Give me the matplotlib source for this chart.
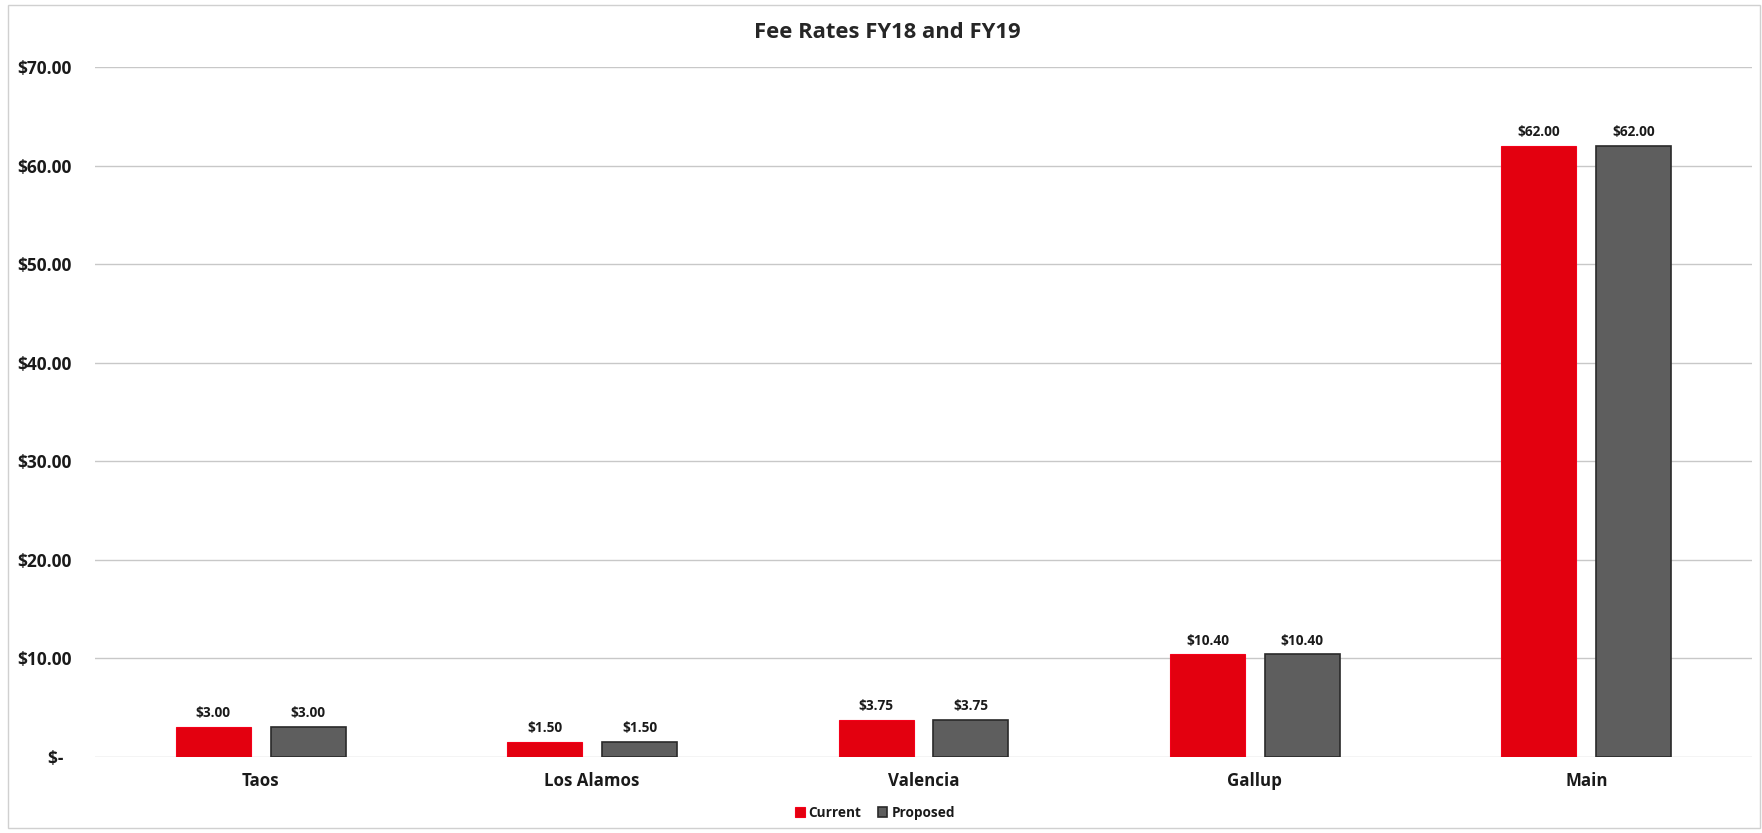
import matplotlib
matplotlib.use("Agg")
import matplotlib.pyplot as plt
import numpy as np
from matplotlib.patches import Rectangle

plt.rcParams['font.family'] = ['Open Sans', 'DejaVu Sans']

categories = ["Taos", "Los Alamos", "Valencia", "Gallup", "Main"]
current = [3.00, 1.50, 3.75, 10.40, 62.00]
proposed = [3.00, 1.50, 3.75, 10.40, 62.00]
yticks = [0, 10, 20, 30, 40, 50, 60, 70]
ytick_labels = ["$-  ", "$10.00", "$20.00", "$30.00", "$40.00", "$50.00", "$60.00", "$70.00"]

fig = plt.figure(figsize=(17.62, 8.33), dpi=100)
ax = fig.add_axes([95/1762, 1-757/833, (1752-95)/1762, (757-67)/833])

x = np.arange(len(categories))
w = 0.226
off = 0.143
red = "#E3000F"
gray = "#5E5E5E"
b1 = ax.bar(x - off, current, w, color=red, edgecolor="#F5001A", linewidth=0.8, label="Current", zorder=3)
b2 = ax.bar(x + off, proposed, w, color=gray, edgecolor="#2A2A2A", linewidth=1.2, label="Proposed", zorder=3)

for bars in (b1, b2):
    for r in bars:
        h = r.get_height()
        ax.annotate(f"${h:.2f}", (r.get_x() + r.get_width()/2, h), xytext=(0, 5),
                    textcoords="offset points", ha="center", va="bottom",
                    fontsize=9.8, fontweight="bold", color="#1a1a1a")

ax.set_xlim(-0.5, len(categories) - 0.5)
ax.set_ylim(0, 70)
ax.set_yticks(yticks)
ax.set_yticklabels(ytick_labels)
ax.set_xticks(x)
ax.set_xticklabels(categories)
ax.tick_params(axis='y', length=0, pad=16.5, labelsize=12.5, labelcolor="#1a1a1a")
ax.tick_params(axis='x', length=0, pad=11, labelsize=12.2, labelcolor="#1a1a1a")
for lab in ax.get_yticklabels() + ax.get_xticklabels():
    lab.set_fontweight("bold")
ax.grid(axis='y', color="#C8C8C8", linewidth=1.0, zorder=0)
for s in ax.spines.values():
    s.set_visible(False)

fig.suptitle("Fee Rates FY18 and FY19", x=887/1762, y=1-32/833, va="center",
             fontsize=15.8, fontweight="bold", color="#262626")

leg = fig.legend(loc="center", bbox_to_anchor=(875/1762, 1-813/833), ncol=2, frameon=False,
                 fontsize=9.8, handlelength=0.7, handleheight=0.7, handletextpad=0.3,
                 columnspacing=1.2)
for t in leg.get_texts():
    t.set_fontweight("bold")
    t.set_color("#1a1a1a")

fig.patches.append(Rectangle((8/1762, 5/833), (1760-8)/1762, (828-5)/833, transform=fig.transFigure,
                             fill=False, edgecolor="#D0D0D0", linewidth=1.0))

fig.savefig("out.png", dpi=100, facecolor="white")
